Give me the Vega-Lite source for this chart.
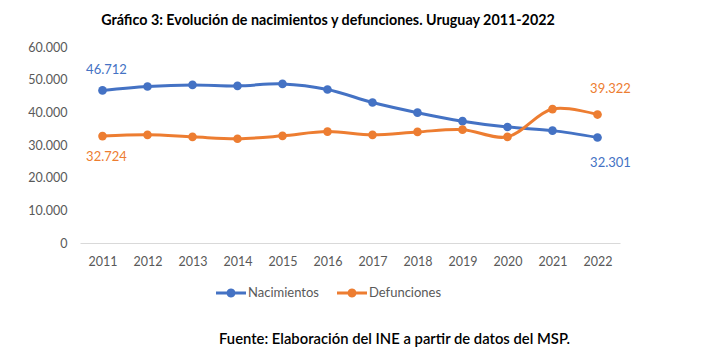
{
  "$schema": "https://vega.github.io/schema/vega-lite/v6.json",
  "width": 540,
  "height": 196,
  "autosize": "none",
  "padding": {"left": 80, "top": 47, "right": 93, "bottom": 110},
  "background": "white",
  "title": {
    "text": "Gráfico 3: Evolución  de nacimientos  y defunciones.  Uruguay  2011-2022",
    "anchor": "middle",
    "frame": "group",
    "dx": -22,
    "offset": 13,
    "font": "Lato",
    "fontSize": 14.3,
    "fontWeight": "bold",
    "color": "#000000"
  },
  "data": {
    "values": [
      {"year": "2011", "serie": "Nacimientos", "valor": 46712},
      {"year": "2012", "serie": "Nacimientos", "valor": 47900},
      {"year": "2013", "serie": "Nacimientos", "valor": 48400},
      {"year": "2014", "serie": "Nacimientos", "valor": 48100},
      {"year": "2015", "serie": "Nacimientos", "valor": 48700},
      {"year": "2016", "serie": "Nacimientos", "valor": 47000},
      {"year": "2017", "serie": "Nacimientos", "valor": 43000},
      {"year": "2018", "serie": "Nacimientos", "valor": 39900},
      {"year": "2019", "serie": "Nacimientos", "valor": 37300},
      {"year": "2020", "serie": "Nacimientos", "valor": 35500},
      {"year": "2021", "serie": "Nacimientos", "valor": 34400},
      {"year": "2022", "serie": "Nacimientos", "valor": 32301},
      {"year": "2011", "serie": "Defunciones", "valor": 32724},
      {"year": "2012", "serie": "Defunciones", "valor": 33100},
      {"year": "2013", "serie": "Defunciones", "valor": 32500},
      {"year": "2014", "serie": "Defunciones", "valor": 31900},
      {"year": "2015", "serie": "Defunciones", "valor": 32800},
      {"year": "2016", "serie": "Defunciones", "valor": 34100},
      {"year": "2017", "serie": "Defunciones", "valor": 33100},
      {"year": "2018", "serie": "Defunciones", "valor": 34000},
      {"year": "2019", "serie": "Defunciones", "valor": 34700},
      {"year": "2020", "serie": "Defunciones", "valor": 32500},
      {"year": "2021", "serie": "Defunciones", "valor": 41000},
      {"year": "2022", "serie": "Defunciones", "valor": 39322}
    ]
  },
  "encoding": {
    "x": {
      "field": "year",
      "type": "ordinal",
      "scale": {"type": "point", "padding": 0.5},
      "axis": {
        "title": "Fuente: Elaboración del INE a partir de datos del MSP.",
        "titleFont": "Lato",
        "titleFontSize": 14.8,
        "titleFontWeight": 600,
        "titleColor": "#000000",
        "titleX": 314,
        "titleY": 96,
        "titleAnchor": null,
        "titleAlign": "center",
        "titleBaseline": "middle",
        "labelAngle": 0,
        "labelPadding": 12,
        "ticks": false,
        "tickSize": 0,
        "domainColor": "#D9D9D9",
        "domainWidth": 1,
        "grid": false
      }
    },
    "y": {
      "field": "valor",
      "type": "quantitative",
      "scale": {"domain": [0, 60000], "nice": false},
      "axis": {
        "title": null,
        "values": [0, 10000, 20000, 30000, 40000, 50000, 60000],
        "format": ",d",
        "domain": false,
        "ticks": false,
        "tickSize": 0,
        "grid": false,
        "labelPadding": 13
      }
    },
    "color": {
      "field": "serie",
      "type": "nominal",
      "scale": {"domain": ["Nacimientos", "Defunciones"], "range": ["#4472C4", "#ED7D31"]},
      "legend": {
        "title": null,
        "orient": "none",
        "direction": "horizontal",
        "legendX": 136,
        "legendY": 231,
        "symbolType": "M-1,-0.1L-0.283,-0.1A0.3,0.3,0,0,1,0.283,-0.1L1,-0.1L1,0.1L0.283,0.1A0.3,0.3,0,0,1,-0.283,0.1L-1,0.1Z",
        "symbolSize": 900,
        "symbolStrokeWidth": 0,
        "labelOffset": 2,
        "columnPadding": 18,
        "labelFont": "Lato",
        "labelFontSize": 13,
        "labelColor": "#595959",
        "encode": {
          "symbols": {
            "update": {
              "fill": {"scale": "color", "field": "value"},
              "fillOpacity": {"value": 1},
              "strokeWidth": {"value": 0}
            }
          }
        }
      }
    }
  },
  "layer": [
    {
      "mark": {"type": "line", "interpolate": "catmull-rom", "strokeWidth": 3}
    },
    {
      "mark": {"type": "point", "filled": true, "size": 75, "opacity": 1}
    },
    {
      "transform": [{"filter": "datum.year == '2011' && datum.serie == 'Nacimientos'"}],
      "mark": {"type": "text", "dx": 4, "dy": -20, "fontSize": 13, "font": "Lato"},
      "encoding": {"text": {"field": "valor", "type": "quantitative", "format": ",d"}}
    },
    {
      "transform": [{"filter": "datum.year == '2011' && datum.serie == 'Defunciones'"}],
      "mark": {"type": "text", "dx": 4, "dy": 21, "fontSize": 13, "font": "Lato"},
      "encoding": {"text": {"field": "valor", "type": "quantitative", "format": ",d"}}
    },
    {
      "transform": [{"filter": "datum.year == '2022' && datum.serie == 'Defunciones'"}],
      "mark": {"type": "text", "dx": 13, "dy": -26, "fontSize": 13, "font": "Lato"},
      "encoding": {"text": {"field": "valor", "type": "quantitative", "format": ",d"}}
    },
    {
      "transform": [{"filter": "datum.year == '2022' && datum.serie == 'Nacimientos'"}],
      "mark": {"type": "text", "dx": 13, "dy": 26, "fontSize": 13, "font": "Lato"},
      "encoding": {"text": {"field": "valor", "type": "quantitative", "format": ",d"}}
    }
  ],
  "config": {
    "locale": {
      "number": {"decimal": ",", "thousands": ".", "grouping": [3], "currency": ["$", ""]}
    },
    "view": {"stroke": null},
    "font": "Lato",
    "axis": {
      "labelFont": "Lato",
      "labelFontSize": 12.5,
      "labelColor": "#595959"
    }
  }
}
